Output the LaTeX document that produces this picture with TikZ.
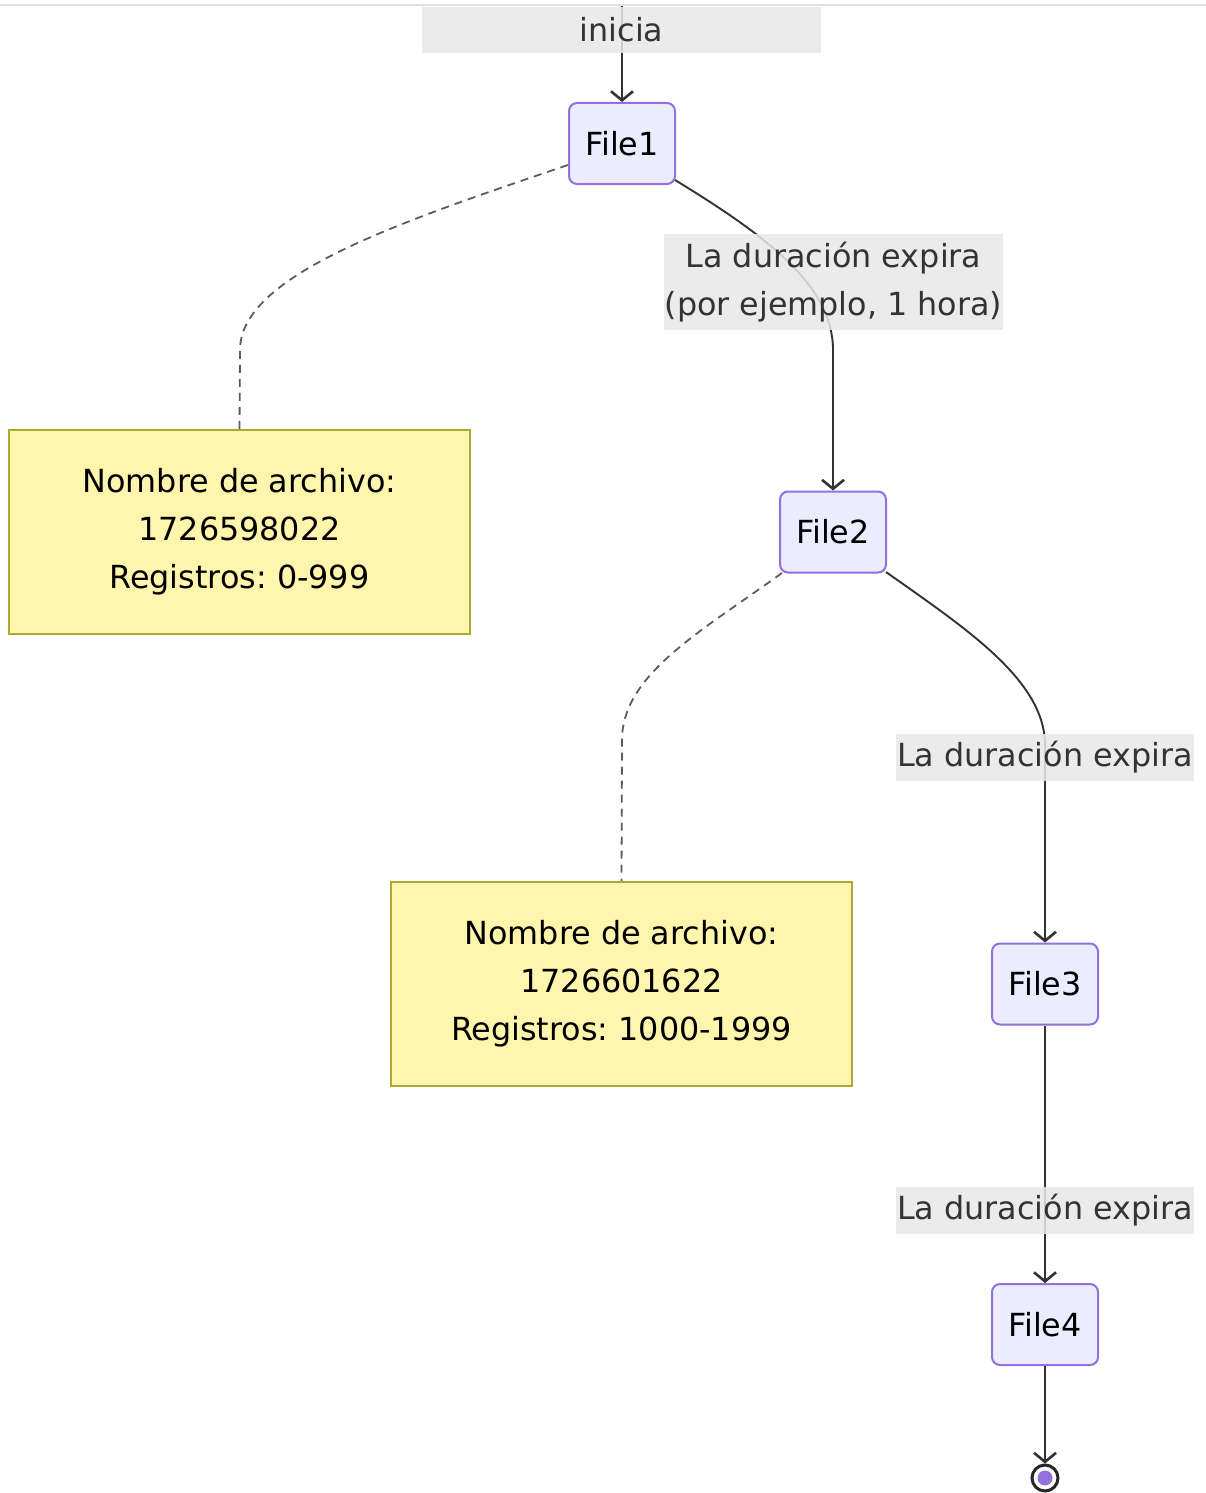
\documentclass[tikz,border=0pt]{standalone}
\usepackage{fontspec}
\setmainfont{DejaVu Sans}
\frenchspacing
\usetikzlibrary{arrows.meta}
\definecolor{nodefill}{HTML}{ECECFF}
\definecolor{nodestroke}{HTML}{9370DB}
\definecolor{notefill}{HTML}{FFF5AD}
\definecolor{notestroke}{HTML}{AAAA33}
\definecolor{edgecol}{HTML}{333333}
\definecolor{lblfill}{HTML}{E8E8E8}
\begin{document}
\begin{tikzpicture}[x=1pt,y=-1pt,
  every node/.style={font=\fontsize{31.8}{48}\selectfont},
  state/.style={draw=nodestroke,fill=nodefill,line width=2pt,rounded corners=8pt,
    minimum width=106pt,minimum height=81pt,inner sep=0pt,text=black},
  notebox/.style={draw=notestroke,fill=notefill,line width=2pt,
    minimum width=461pt,minimum height=204pt,inner sep=0pt,align=center,text=black},
  lbl/.style={fill=lblfill,fill opacity=0.85,text opacity=1,text=edgecol,inner sep=0pt,align=center},
  edge/.style={draw=edgecol,line width=1.9pt,-{Straight Barb[length=9pt,width=22pt,line width=2.6pt]}},
  noteedge/.style={draw=edgecol!80,line width=1.8pt,dash pattern=on 8pt off 6pt}]
\useasboundingbox (0,0) rectangle (1206,1493);
\fill[white] (0,0) rectangle (1206,1493);
\draw[black!12,line width=2pt] (0,5) -- (1206,5);

\coordinate (top) at (622,6);
\node[state] (f1) at (622,143.5) {File1};
\node[state] (f2) at (833,532) {File2};
\node[state] (f3) at (1045,984) {File3};
\node[state] (f4) at (1045,1324.5) {File4};
\node[notebox] (n1) at (239.5,532) {Nombre de archivo:\\1726598022\\Registros: 0-999};
\node[notebox] (n2) at (621.5,984) {Nombre de archivo:\\1726601622\\Registros: 1000-1999};
\node[circle,draw=black!85,line width=3pt,fill=white,minimum size=26pt,inner sep=0pt] (end) at (1045,1478) {};
\fill[nodestroke] (end.center) circle (7.5pt);

% edges
\draw[edge] (top) -- (f1.north);
\draw[noteedge] (f1.west |- 0,165) .. controls (400,222) and (240,275) .. (240,350) -- (n1.north);
\draw[edge] (675,180) .. controls (765,235) and (833,285) .. (833,350) -- (f2.north);
\draw[noteedge] (782,573) .. controls (700,632) and (622,675) .. (622,740) -- (n2.north);
\draw[edge] (886,572) .. controls (965,628) and (1045,680) .. (1045,745) -- (f3.north);
\draw[edge] (f3.south) -- (f4.north);
\draw[edge] (f4.south) -- (end.north);

% labels
\node[lbl,minimum width=399pt,minimum height=46pt] (l0) at (621.5,30) {inicia};
\node[lbl,minimum width=339pt,minimum height=96pt] (l1) at (833.5,282) {La duración expira\\(por ejemplo, 1 hora)};
\node[lbl,minimum width=298pt,minimum height=47pt] (l2) at (1045,757.5) {La duración expira};
\node[lbl,minimum width=298pt,minimum height=47pt] (l3) at (1045,1210.5) {La duración expira};
\end{tikzpicture}
\end{document}
